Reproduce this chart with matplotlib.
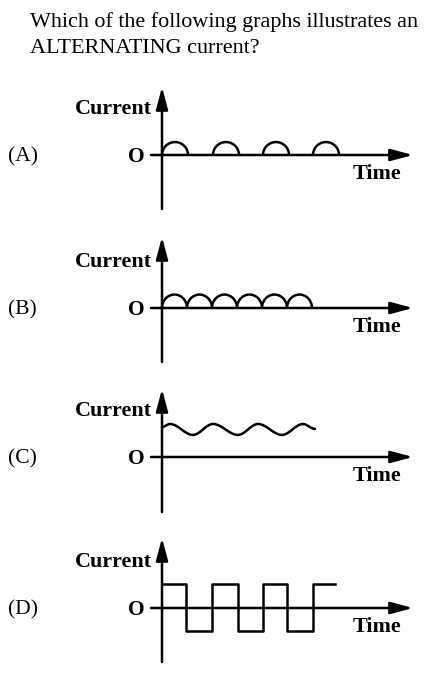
import numpy as np
import matplotlib
matplotlib.use('Agg')
import matplotlib.pyplot as plt
from matplotlib.patches import Arc, PathPatch
from matplotlib.path import Path

plt.rcParams['font.family'] = ['Liberation Serif', 'DejaVu Serif']

W, H = 442, 676

# waveform data, time in half-periods, current in units of the square-wave height
a_starts = [0, 2.04, 4.04, 6.04]
a_width, a_height = 1.04, 0.54

b_starts = [0, 1, 2, 3, 4, 5]
b_width, b_height = 1.0, 0.56

c_t = [0, 0.32, 1.24, 2.04, 3.04, 3.84, 4.8, 5.64, 6.12]
c_i = [1.25, 1.375, 0.92, 1.375, 0.92, 1.375, 0.92, 1.375, 1.17]

d_t = [0, 0.96, 2.0, 3.04, 4.04, 5.0, 6.04, 6.92]
d_i = [1, -0.96, 1, -0.96, 1, -0.96, 1, 1]

letters = ['(A)', '(B)', '(C)', '(D)']
title_lines = ['Which of the following graphs illustrates an', 'ALTERNATING current?']

# panel geometry in pixels: x-axis row, arrow tip, bottom of y-axis
panels = [(155, 87, 209), (308, 237, 362), (457, 389, 512), (608, 538, 662)]
x_left, x_right, x_zero = 151, 413, 162
px_t, px_i = 25.0, 24.0
lw = 1.8


def fx(x):
    return x / W


def fy(y):
    return 1 - y / H


fig = plt.figure(figsize=(W / 100, H / 100), dpi=100)

for k, line in enumerate(title_lines):
    fig.text(fx(30), fy(27 + 26 * k), line, fontsize=15.9, va='baseline', ha='left')

axes = []
for k, (y0, ytop, ybot) in enumerate(panels):
    ax = fig.add_axes([fx(x_left), fy(ybot), (x_right - x_left) / W, (ybot - ytop) / H])
    ax.set_xlim((x_left - x_zero) / px_t, (x_right - x_zero) / px_t)
    ax.set_ylim(-(ybot - y0) / px_i, (y0 - ytop) / px_i)
    ax.axis('off')
    xmin, xmax = ax.get_xlim()
    ymin, ymax = ax.get_ylim()
    arrow = dict(arrowstyle='-|>,head_length=0.45,head_width=0.12', mutation_scale=30,
                 lw=lw, color='k', shrinkA=0, shrinkB=0)
    ax.annotate('', xy=(xmax, 0), xytext=(xmin, 0), arrowprops=arrow, annotation_clip=False)
    ax.annotate('', xy=(0, ymax), xytext=(0, ymin), arrowprops=arrow, annotation_clip=False)
    axes.append(ax)

    fig.text(fx(8), fy(y0 + 2), letters[k], fontsize=15.5, va='center', ha='left')
    fig.text(fx(136), fy(y0 + 2), 'O', fontsize=15.5, fontweight='bold', va='center', ha='center')
    fig.text(fx(152), fy(y0 - 46), 'Current', fontsize=15.8, fontweight='bold', va='center', ha='right')
    fig.text(fx(377), fy(y0 + 19), 'Time', fontsize=15.8, fontweight='bold', va='center', ha='center')

# (A) half-wave humps
for s in a_starts:
    axes[0].add_patch(Arc((s + a_width / 2, 0), a_width, 2 * a_height, theta1=0, theta2=180,
                          lw=lw, color='k', clip_on=False))

# (B) full-wave humps
for s in b_starts:
    axes[1].add_patch(Arc((s + b_width / 2, 0), b_width, 2 * b_height, theta1=0, theta2=180,
                          lw=lw, color='k', clip_on=False))

# (C) wavy current through its peaks and troughs
verts = [(c_t[0], c_i[0])]
codes = [Path.MOVETO]
for i in range(len(c_t) - 1):
    dx = c_t[i + 1] - c_t[i]
    verts += [(c_t[i] + 0.36 * dx, c_i[i]), (c_t[i + 1] - 0.36 * dx, c_i[i + 1]), (c_t[i + 1], c_i[i + 1])]
    codes += [Path.CURVE4] * 3
axes[2].add_patch(PathPatch(Path(verts, codes), fill=False, lw=lw, color='k', capstyle='round'))

# (D) square wave
axes[3].plot(d_t, d_i, drawstyle='steps-post', lw=lw, color='k', clip_on=False)

fig.savefig('out.png', dpi=100)
